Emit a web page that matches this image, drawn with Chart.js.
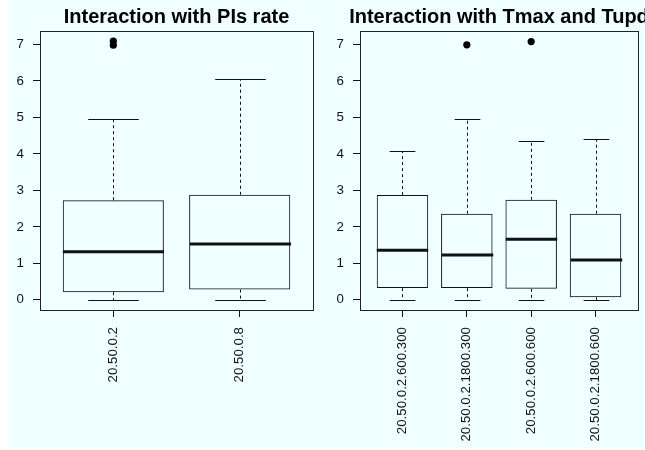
<!DOCTYPE html>
<html>
<head>
<meta charset="utf-8">
<script src="https://cdn.jsdelivr.net/npm/chart.js@4.4.1/dist/chart.umd.min.js"></script>
<style>
  html, body { margin: 0; padding: 0; background: #fff; overflow: hidden; }
  #bg { position: absolute; left: 8px; top: 0; width: 637px; height: 448px; background: #f0ffff; }
  .panel { position: absolute; top: 0; }
  #p1 { left: 0; }
  #p2 { left: 320px; }
</style>
</head>
<body>
<div id="bg"></div>
<div class="panel" id="p1"><canvas id="c1" width="320" height="450"></canvas></div>
<div class="panel" id="p2"><canvas id="c2" width="325" height="450"></canvas></div>
<script>
// y axis
const yTicks = [0, 1, 2, 3, 4, 5, 6, 7];
const yMin = -0.28, yMax = 7.37;

// panel 1: PIs rate
const pisTitle = 'Interaction with PIs rate';
const pisCats = ['20.50.0.2', '20.50.0.8'];
const pisLow  = [0, 0];
const pisQ1   = [0.21, 0.28];
const pisMed  = [1.32, 1.53];
const pisQ3   = [2.73, 2.88];
const pisHigh = [4.97, 6.05];
const pisOut  = [[6.98, 7.09], []];

// panel 2: Tmax and Tupd
const tTitle = 'Interaction with Tmax and Tupd';
const tCats = ['20.50.0.2.600.300', '20.50.0.2.1800.300', '20.50.0.2.600.600', '20.50.0.2.1800.600'];
const tLow  = [0, 0, 0, 0];
const tQ1   = [0.32, 0.32, 0.30, 0.07];
const tMed  = [1.36, 1.23, 1.66, 1.09];
const tQ3   = [2.87, 2.36, 2.74, 2.36];
const tHigh = [4.07, 4.97, 4.35, 4.42];
const tOut  = [[], [6.99], [7.08], []];

const FONT = "'Liberation Sans', Arial, Helvetica, sans-serif";
const INK = '#111';

// whiskers, staples, medians, frame and title
const boxPlugin = {
  id: 'rbox',
  afterDatasetsDraw(chart, args, opts) {
    const { ctx, chartArea: a, scales: { x, y } } = chart;
    const half = x.getPixelForValue(1.4) - x.getPixelForValue(1);
    ctx.save();
    ctx.strokeStyle = INK;
    opts.low.forEach((lo, i) => {
      const px = Math.round(x.getPixelForValue(i + 1)) + 0.5;
      const yLo = Math.round(y.getPixelForValue(lo)) + 0.5;
      const yHi = Math.round(y.getPixelForValue(opts.high[i])) + 0.5;
      ctx.lineWidth = 1;
      ctx.setLineDash([3, 3]);
      ctx.beginPath();
      ctx.moveTo(px, y.getPixelForValue(opts.q3[i]));
      ctx.lineTo(px, yHi);
      ctx.moveTo(px, y.getPixelForValue(opts.q1[i]));
      ctx.lineTo(px, yLo);
      ctx.stroke();
      ctx.setLineDash([]);
      ctx.beginPath();
      ctx.moveTo(px - half / 2, yHi);
      ctx.lineTo(px + half / 2, yHi);
      ctx.moveTo(px - half / 2, yLo);
      ctx.lineTo(px + half / 2, yLo);
      ctx.stroke();
      const yM = y.getPixelForValue(opts.med[i]);
      ctx.lineWidth = 3;
      ctx.beginPath();
      ctx.moveTo(px - half, yM);
      ctx.lineTo(px + half, yM);
      ctx.stroke();
    });
    ctx.lineWidth = 1;
    ctx.strokeStyle = '#222';
    ctx.strokeRect(Math.round(a.left) + 0.5, Math.round(a.top) + 0.5,
      Math.round(a.right - a.left), Math.round(a.bottom - a.top));
    ctx.fillStyle = '#000';
    ctx.font = 'bold 20px ' + FONT;
    ctx.textAlign = 'center';
    ctx.textBaseline = 'alphabetic';
    ctx.fillText(opts.title, (a.left + a.right) / 2, 23);
    ctx.restore();
  }
};

function makePanel(id, title, cats, low, q1, med, q3, high, out) {
  const n = cats.length;
  const boxes = cats.map((c, i) => ({ x: i + 1, y: [q1[i], q3[i]] }));
  const points = [];
  out.forEach((vals, i) => vals.forEach(v => points.push({ x: i + 1, y: v })));
  const axisGrid = { drawOnChartArea: false, drawTicks: true, tickLength: 7, color: INK, lineWidth: 1, offset: false };
  return new Chart(document.getElementById(id), {
    type: 'bar',
    data: {
      datasets: [
        { data: boxes, backgroundColor: 'rgba(0,0,0,0)', borderColor: INK, borderWidth: 1,
          borderSkipped: false, barPercentage: 0.8, categoryPercentage: 1 },
        { type: 'scatter', data: points, pointRadius: 3.6, pointBackgroundColor: '#000',
          pointBorderColor: '#000', pointBorderWidth: 0 }
      ]
    },
    options: {
      responsive: false,
      animation: false,
      layout: { padding: { top: 31, right: 7, bottom: 0, left: 0 } },
      plugins: {
        legend: { display: false },
        tooltip: { enabled: false },
        rbox: { title, low, q1, med, q3, high }
      },
      scales: {
        x: {
          type: 'linear',
          offset: false,
          min: 0.5 - 0.04 * n,
          max: n + 0.5 + 0.04 * n,
          afterBuildTicks: s => { s.ticks = cats.map((c, i) => ({ value: i + 1 })); },
          afterFit: s => { s.height = 140; },
          grid: axisGrid,
          border: { display: false },
          ticks: {
            autoSkip: false, minRotation: 90, maxRotation: 90, padding: 10,
            color: INK, font: { family: FONT, size: 13.3 },
            callback: (v, i) => cats[i]
          }
        },
        y: {
          type: 'linear',
          min: yMin,
          max: yMax,
          afterBuildTicks: s => { s.ticks = yTicks.map(v => ({ value: v })); },
          afterFit: s => { s.width = 40; },
          grid: axisGrid,
          border: { display: false },
          ticks: { padding: 9, color: INK, font: { family: FONT, size: 13.3 } }
        }
      }
    },
    plugins: [boxPlugin]
  });
}

makePanel('c1', pisTitle, pisCats, pisLow, pisQ1, pisMed, pisQ3, pisHigh, pisOut);
makePanel('c2', tTitle, tCats, tLow, tQ1, tMed, tQ3, tHigh, tOut);
</script>
</body>
</html>
